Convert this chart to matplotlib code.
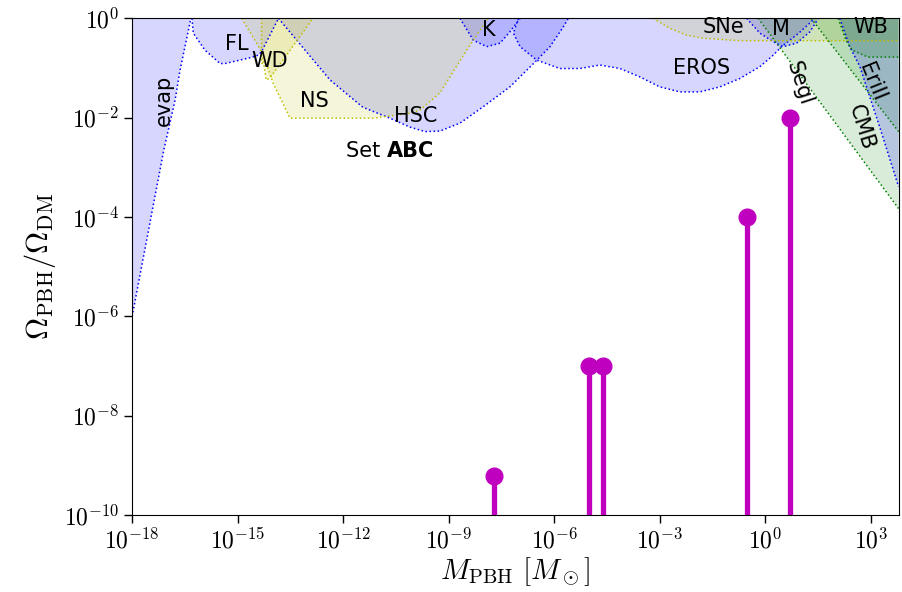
import numpy as np
import matplotlib
matplotlib.use("Agg")
import matplotlib.pyplot as plt
from matplotlib.ticker import FixedLocator, FuncFormatter, NullLocator

plt.rcParams["mathtext.fontset"] = "cm"
plt.rcParams["font.family"] = ["DejaVu Sans"]

# ---- constraint boundaries, log10(M/Msun) vs log10(f_PBH) ----
evap_logm = [-18.0, -17.1, -16.78, -16.64, -16.33]
evap_logf = [-6.0, -2.65, -1.65, -1.05, 0.0]

fl_logm = [-16.30, -16.26, -15.93, -15.50, -15.36, -14.60, -14.41, -14.32, -13.84]
fl_logf = [0.0, -0.30, -0.64, -0.91, -0.91, -0.785, -0.74, -0.67, 0.0]

wd_logm = [-14.885, -14.31, -14.19, -14.08, -12.86]
wd_logf = [0.0, -0.68, -1.24, -1.20, 0.0]

ns_logm = [-14.32, -14.32, -14.17, -13.99, -13.51, -11.15, -10.10, -9.82, -9.25, -8.49, -7.875]
ns_logf = [0.0, -0.90, -0.94, -1.31, -2.01, -2.01, -1.91, -1.85, -1.50, -0.64, 0.0]

hsc_logm = [-13.84, -13.32, -12.375, -11.44, -10.67, -10.10, -9.67, -9.25, -8.68,
            -8.02, -7.26, -6.59, -6.12, -5.74, -5.60]
hsc_logf = [0.0, -0.44, -1.24, -1.79, -2.01, -2.19, -2.28, -2.27, -2.11,
            -1.78, -1.38, -0.91, -0.57, -0.17, 0.0]

k_logm = [-8.68, -8.30, -7.92, -7.54, -7.26, -6.97]
k_logf = [0.0, -0.44, -0.57, -0.50, -0.27, 0.0]

eros_logm = [-7.02, -7.16, -6.97, -6.50, -5.84, -5.27, -4.70, -4.13, -3.56, -3.00,
             -2.43, -1.86, -1.29, -0.72, -0.15, 0.23, 0.46, 0.95, 1.41]
eros_logf = [0.0, -0.30, -0.57, -0.84, -1.01, -1.01, -0.94, -1.01, -1.18, -1.38,
             -1.48, -1.48, -1.38, -1.21, -0.97, -0.74, -0.57, -0.30, 0.0]

sne_logm = [-3.19, -2.71, -2.235, -1.76, -0.72, 3.79]
sne_logf = [0.0, -0.20, -0.34, -0.40, -0.45, -0.45]

m_logm = [-0.53, -0.15, 0.23, 0.51, 0.89, 1.27, 1.51]
m_logf = [0.0, -0.30, -0.47, -0.57, -0.50, -0.27, 0.0]

segl_logm = [-0.20, 3.79]
segl_logf = [0.0, -3.83]

cmb_logm = [1.30, 3.79]
cmb_logf = [0.0, -2.28]

erii_logm = [2.12, 2.40, 2.69, 2.97, 3.25, 3.79]
erii_logf = [0.0, -0.57, -0.97, -1.58, -2.18, -3.39]

wb_logm = [2.07, 2.30, 2.47, 2.92, 3.79]
wb_logf = [0.0, -0.45, -0.64, -0.78, -0.78]

# ---- PBH population: masses [Msun] and fractions of dark matter ----
pbh_mass = [2e-8, 1e-5, 2.5e-5, 0.3, 5.0]
pbh_frac = [6e-10, 1e-7, 1e-7, 1e-4, 1e-2]

XMIN, XMAX = 1e-18, 10 ** 3.79
YMIN, YMAX = 1e-10, 1.0

fig = plt.figure(figsize=(9.02, 5.92), dpi=100)
ax = fig.add_axes([0.1465, 0.130, 0.8497, 0.839])


def bound(logm, logf, color, alpha=0.16):
    m = 10.0 ** np.asarray(logm)
    f = 10.0 ** np.asarray(logf)
    px = np.concatenate([m, [m[-1], m[0]]])
    py = np.concatenate([f, [YMAX, YMAX]])
    ax.fill(px, py, color=color, alpha=alpha, lw=0, zorder=1)
    ax.plot(m, f, ls=":", color=color, lw=1.1, zorder=2)


# lensing / evaporation / dynamical bounds (blue)
bound(evap_logm, evap_logf, "b")
bound(fl_logm, fl_logf, "b")
bound(hsc_logm, hsc_logf, "b")
bound(k_logm, k_logf, "b")
bound(eros_logm, eros_logf, "b")
bound(m_logm, m_logf, "b")
# stellar bounds (yellow)
bound(wd_logm, wd_logf, "y", 0.15)
bound(ns_logm, ns_logf, "y", 0.15)
bound(sne_logm, sne_logf, "y", 0.15)
# dwarf galaxies, CMB, wide binaries
bound(segl_logm, segl_logf, "g", 0.15)
bound(cmb_logm, cmb_logf, "g", 0.15)
bound(erii_logm, erii_logf, "b")
bound(wb_logm, wb_logf, "g", 0.15)

# labels for the constraints
lab_kw = dict(fontsize=15, ha="center", va="center", zorder=3)
ax.text(10 ** -17.09, 10 ** -1.645, "evap", rotation=90, **lab_kw)
ax.text(10 ** -15.03, 10 ** -0.52, "FL", **lab_kw)
ax.text(10 ** -14.08, 10 ** -0.86, "WD", **lab_kw)
ax.text(10 ** -12.83, 10 ** -1.665, "NS", **lab_kw)
ax.text(10 ** -9.93, 10 ** -1.97, "HSC", **lab_kw)
ax.text(10 ** -7.855, 10 ** -0.235, "K", **lab_kw)
ax.text(10 ** -1.81, 10 ** -1.0, "EROS", **lab_kw)
ax.text(10 ** -1.20, 10 ** -0.175, "SNe", **lab_kw)
ax.text(10 ** 0.445, 10 ** -0.215, "M", **lab_kw)
ax.text(10 ** 3.0, 10 ** -0.175, "WB", **lab_kw)
ax.text(10 ** 0.955, 10 ** -1.32, "Segl", rotation=-72, **lab_kw)
ax.text(10 ** 3.03, 10 ** -1.28, "EriII", rotation=-68, **lab_kw)
ax.text(10 ** 2.74, 10 ** -2.19, "CMB", rotation=-73, **lab_kw)

ax.text(10 ** -10.755, 10 ** -2.67, "Set ", fontsize=15, ha="right", va="center", zorder=3)
ax.text(10 ** -10.755, 10 ** -2.67, "ABC", fontsize=15, fontweight="bold",
        ha="left", va="center", zorder=3)

# PBH population as stems
ax.vlines(pbh_mass, YMIN, pbh_frac, color="m", lw=3.8, zorder=4)
ax.plot(pbh_mass, pbh_frac, "o", color="m", ms=12, zorder=5, clip_on=False)

ax.set_xscale("log")
ax.set_yscale("log")
ax.set_xlim(XMIN, XMAX)
ax.set_ylim(YMIN, YMAX)

ax.xaxis.set_major_locator(FixedLocator([10.0 ** e for e in range(-18, 4, 3)]))
ax.yaxis.set_major_locator(FixedLocator([10.0 ** e for e in range(-10, 1, 2)]))
ax.xaxis.set_minor_locator(NullLocator())
ax.yaxis.set_minor_locator(NullLocator())
fmt = FuncFormatter(lambda v, p: r"$10^{%d}$" % int(round(np.log10(v))))
ax.xaxis.set_major_formatter(fmt)
ax.yaxis.set_major_formatter(fmt)
ax.tick_params(which="major", direction="out", length=6, width=1, labelsize=17)

ax.set_xlabel(r"$M_\mathrm{PBH}\ [M_\odot]$", fontsize=21, labelpad=1)
ax.set_ylabel(r"$\Omega_\mathrm{PBH}/\Omega_\mathrm{DM}$", fontsize=22)

fig.savefig("out.png", dpi=100)
